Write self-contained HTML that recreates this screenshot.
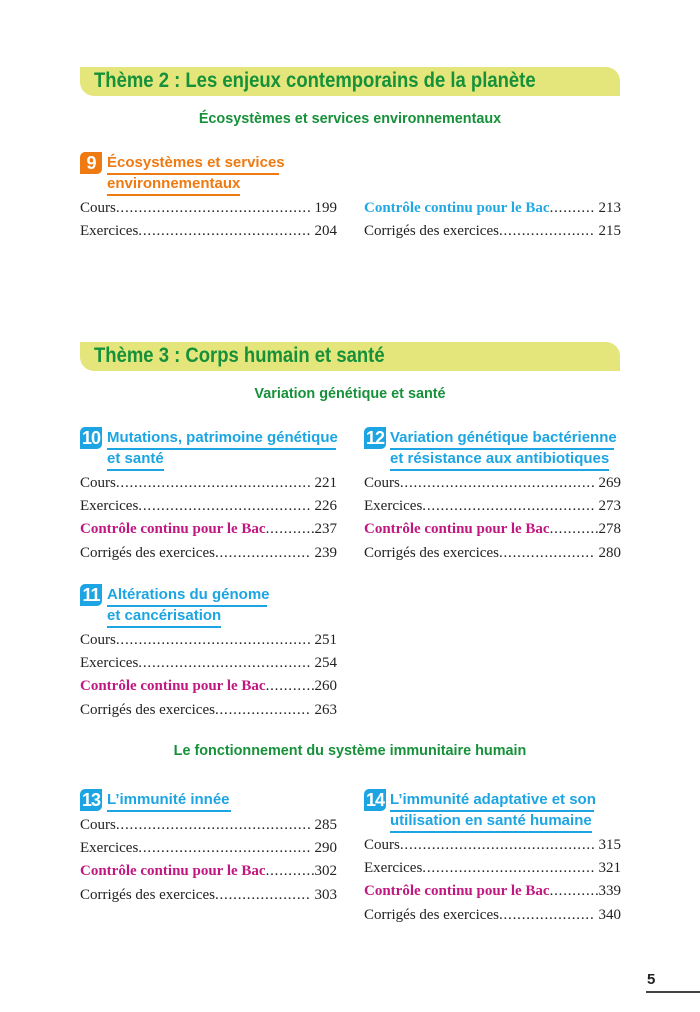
<!DOCTYPE html>
<html><head><meta charset="utf-8"><style>
*{margin:0;padding:0;box-sizing:border-box}
body{width:700px;height:1012px;background:#fff;position:relative;overflow:hidden;font-family:"Liberation Serif",serif}
.ban{position:absolute;left:80px;width:540px;height:29px;background:#e4e67c;border-radius:0 14px 0 14px;}
.ban span{position:absolute;left:14px;top:2px;font:bold 21px "Liberation Sans",sans-serif;color:#16913a;white-space:nowrap;transform:scaleX(.88);transform-origin:0 0}
.sub{position:absolute;left:0;width:700px;text-align:center;font:bold 14.4px "Liberation Sans",sans-serif;color:#16913a}
.num{position:absolute;width:22px;height:22px;border-radius:5px 0 5px 0;color:#fff;font:bold 18px "Liberation Sans",sans-serif;text-align:center;line-height:22px;letter-spacing:-1px}
.h{position:absolute;font:bold 15px "Liberation Sans",sans-serif;white-space:nowrap;line-height:18px;padding-bottom:1px;border-bottom:2px solid}
.e{position:absolute;width:257px;display:flex;font-size:15px;line-height:18px;white-space:nowrap;color:#222}
.e .d{flex:1;overflow:hidden;letter-spacing:0.8px}
.e .d::before{content:"..............................................................................................................."}
.m{color:#c11781;font-weight:bold}
.b{color:#22a9e3;font-weight:bold}
.pn{padding-left:4px}
</style></head><body>

<div class="ban" style="top:67px"><span>Thème 2 : Les enjeux contemporains de la planète</span></div>
<div class="sub" style="top:111px">Écosystèmes et services environnementaux</div>

<div class="num" style="left:80px;top:152px;background:#ef7a12">9</div>
<div class="h" style="left:107px;top:154px;color:#ef7a12;width:172px">Écosystèmes et services</div>
<div class="h" style="left:107px;top:175px;color:#ef7a12">environnementaux</div>
<div class="e" style="left:80px;top:199px"><span>Cours</span><span class="d"></span><span class="pn">199</span></div>
<div class="e" style="left:80px;top:222px"><span>Exercices</span><span class="d"></span><span class="pn">204</span></div>
<div class="e" style="left:364px;top:199px"><span class="b">Contrôle continu pour le Bac</span><span class="d"></span><span class="pn">213</span></div>
<div class="e" style="left:364px;top:222px"><span>Corrigés des exercices</span><span class="d"></span><span class="pn">215</span></div>

<div class="ban" style="top:342px"><span>Thème 3 : Corps humain et santé</span></div>
<div class="sub" style="top:386px">Variation génétique et santé</div>

<div class="num" style="left:80px;top:427px;background:#1ca5e2">10</div>
<div class="h" style="left:107px;top:429px;color:#1ca5e2;width:229px">Mutations, patrimoine génétique</div>
<div class="h" style="left:107px;top:450px;color:#1ca5e2">et santé</div>
<div class="e" style="left:80px;top:474px"><span>Cours</span><span class="d"></span><span class="pn">221</span></div>
<div class="e" style="left:80px;top:497px"><span>Exercices</span><span class="d"></span><span class="pn">226</span></div>
<div class="e" style="left:80px;top:520px"><span class="m">Contrôle continu pour le Bac</span><span class="d"></span><span>237</span></div>
<div class="e" style="left:80px;top:544px"><span>Corrigés des exercices</span><span class="d"></span><span class="pn">239</span></div>

<div class="num" style="left:364px;top:427px;background:#1ca5e2">12</div>
<div class="h" style="left:390px;top:429px;color:#1ca5e2;width:224px">Variation génétique bactérienne</div>
<div class="h" style="left:390px;top:450px;color:#1ca5e2">et résistance aux antibiotiques</div>
<div class="e" style="left:364px;top:474px"><span>Cours</span><span class="d"></span><span class="pn">269</span></div>
<div class="e" style="left:364px;top:497px"><span>Exercices</span><span class="d"></span><span class="pn">273</span></div>
<div class="e" style="left:364px;top:520px"><span class="m">Contrôle continu pour le Bac</span><span class="d"></span><span>278</span></div>
<div class="e" style="left:364px;top:544px"><span>Corrigés des exercices</span><span class="d"></span><span class="pn">280</span></div>

<div class="num" style="left:80px;top:584px;background:#1ca5e2">11</div>
<div class="h" style="left:107px;top:586px;color:#1ca5e2;width:160px">Altérations du génome</div>
<div class="h" style="left:107px;top:607px;color:#1ca5e2">et cancérisation</div>
<div class="e" style="left:80px;top:631px"><span>Cours</span><span class="d"></span><span class="pn">251</span></div>
<div class="e" style="left:80px;top:654px"><span>Exercices</span><span class="d"></span><span class="pn">254</span></div>
<div class="e" style="left:80px;top:677px"><span class="m">Contrôle continu pour le Bac</span><span class="d"></span><span>260</span></div>
<div class="e" style="left:80px;top:701px"><span>Corrigés des exercices</span><span class="d"></span><span class="pn">263</span></div>

<div class="sub" style="top:743px">Le fonctionnement du système immunitaire humain</div>

<div class="num" style="left:80px;top:789px;background:#1ca5e2">13</div>
<div class="h" style="left:107px;top:791px;color:#1ca5e2;width:124px">L’immunité innée</div>
<div class="e" style="left:80px;top:816px"><span>Cours</span><span class="d"></span><span class="pn">285</span></div>
<div class="e" style="left:80px;top:839px"><span>Exercices</span><span class="d"></span><span class="pn">290</span></div>
<div class="e" style="left:80px;top:862px"><span class="m">Contrôle continu pour le Bac</span><span class="d"></span><span>302</span></div>
<div class="e" style="left:80px;top:886px"><span>Corrigés des exercices</span><span class="d"></span><span class="pn">303</span></div>

<div class="num" style="left:364px;top:789px;background:#1ca5e2">14</div>
<div class="h" style="left:390px;top:791px;color:#1ca5e2;width:204px">L’immunité adaptative et son</div>
<div class="h" style="left:390px;top:812px;color:#1ca5e2">utilisation en santé humaine</div>
<div class="e" style="left:364px;top:836px"><span>Cours</span><span class="d"></span><span class="pn">315</span></div>
<div class="e" style="left:364px;top:859px"><span>Exercices</span><span class="d"></span><span class="pn">321</span></div>
<div class="e" style="left:364px;top:882px"><span class="m">Contrôle continu pour le Bac</span><span class="d"></span><span>339</span></div>
<div class="e" style="left:364px;top:906px"><span>Corrigés des exercices</span><span class="d"></span><span class="pn">340</span></div>

<div style="position:absolute;left:647px;top:971px;font:bold 15px 'Liberation Sans',sans-serif;color:#222">5</div>
<div style="position:absolute;left:646px;top:991px;width:54px;height:2px;background:#444"></div>
</body></html>
